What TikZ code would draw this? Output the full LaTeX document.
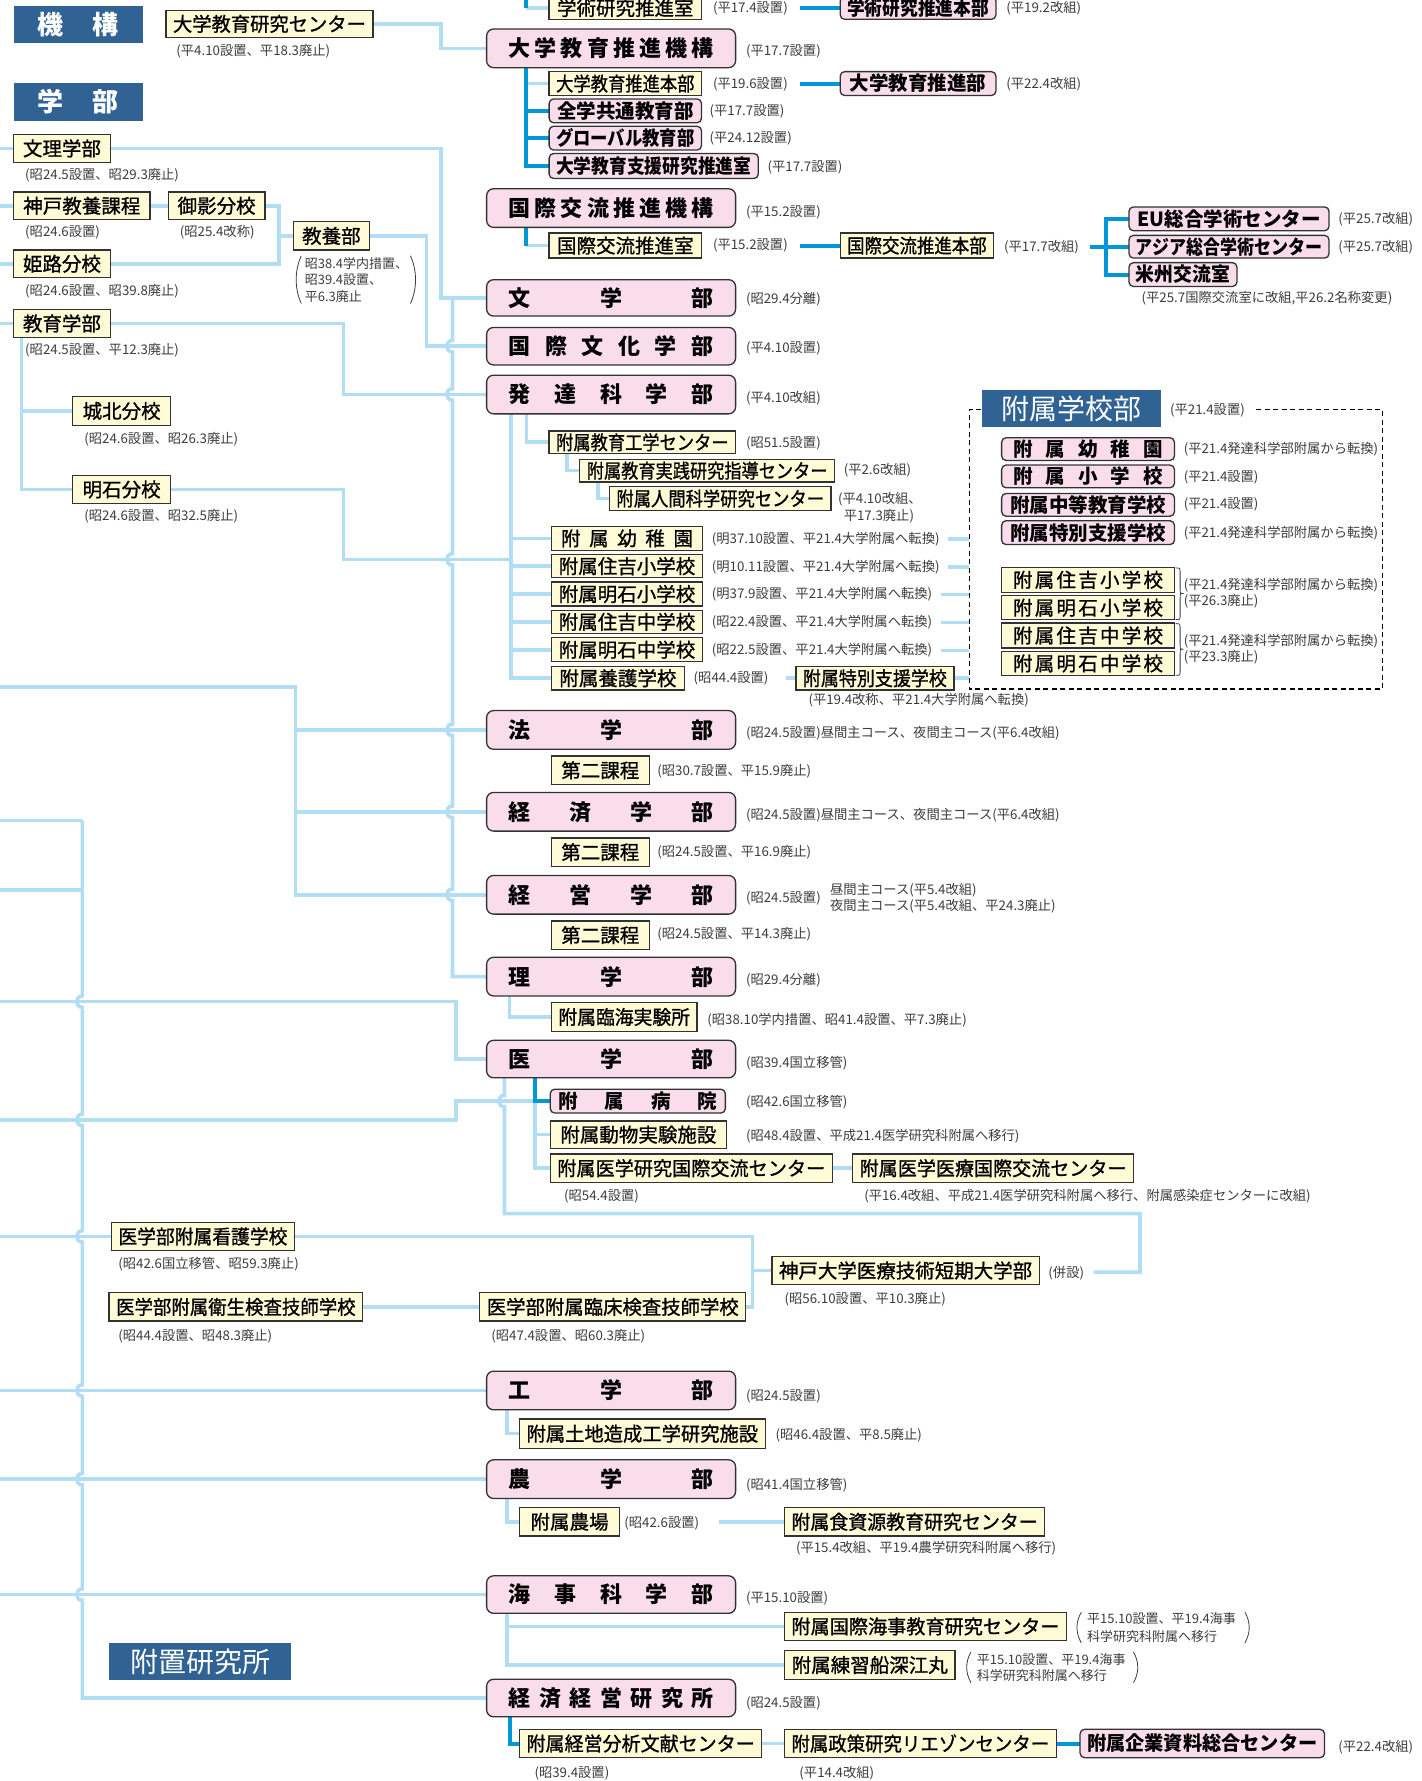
\documentclass[tikz,border=0pt]{standalone}
\usepackage{fontspec}
\usepackage{graphicx}
\setmainfont{Noto Sans CJK JP}
\newfontfamily\jpm[FakeBold=1]{Noto Sans CJK JP}
\usetikzlibrary{calc}
\definecolor{lb}{RGB}{178,222,245}
\definecolor{db}{RGB}{0,150,215}
\definecolor{pf}{RGB}{250,221,234}
\definecolor{yf}{RGB}{255,251,214}
\definecolor{hb}{RGB}{48,99,148}
\definecolor{bd}{RGB}{50,50,50}
\definecolor{cg}{RGB}{60,60,60}
\newsavebox\fitbox
\newlength\fith
\newcommand\fitw[2]{\sbox\fitbox{#2}\setlength\fith{\ht\fitbox}\ifdim\wd\fitbox>#1\relax\resizebox{#1}{\fith}{\usebox\fitbox}\else\usebox\fitbox\fi}
\newcommand\spr[2]{\makebox[#1][s]{#2}}
\pgfdeclarelayer{bg}\pgfsetlayers{bg,main}
\newcounter{capn}
\newcommand\mybox[7]{%
 \pgfmathsetlengthmacro\bw{(#5-#3)*1.137}%
 \pgfmathsetlengthmacro\bh{(#6-#4)*1.137}%
 \pgfmathsetlengthmacro\tw{(#5-#3)*1.137-14}%
 \node[#1, minimum width=\bw, minimum height=\bh] (#2) at ({(#3+#5)/2},{(#4+#6)/2}) {\fitw{\tw}{#7}};}
\newcommand\capt[3]{\stepcounter{capn}\node[capst] (cap\arabic{capn}) at (#1,#2) {#3};}
\newcommand\hop[2]{-- (#1,#2-5) .. controls (#1-6.7,#2-5) and (#1-6.7,#2+5) .. (#1,#2+5)}
\begin{document}
\begin{tikzpicture}[x=1.137pt,y=-1.137pt,
 lt/.style={draw=lb,line width=3.6pt},
 dk/.style={draw=db,line width=4pt},
 bx/.style={draw=bd,line width=1.3pt,inner sep=0pt,outer sep=0pt,text=black},
 ybox/.style={bx,fill=yf,font=\jpm\fontsize{19.5}{19.5}\selectfont},
 pbox/.style={bx,fill=pf,rounded corners=4.5pt,font=\bfseries\fontsize{19.5}{19.5}\selectfont},
 pbig/.style={bx,fill=pf,rounded corners=7pt,font=\bfseries\fontsize{22}{22}\selectfont},
 hdr/.style={fill=hb,inner sep=0pt,text=white,font=\bfseries\fontsize{26}{26}\selectfont},
 hdrr/.style={fill=hb,inner sep=0pt,text=white,font=\fontsize{28}{28}\selectfont},
 capst/.style={anchor=west,inner sep=0pt,text=cg,font=\fontsize{13.3}{13.3}\selectfont},
 capsm/.style={anchor=west,inner sep=0pt,text=cg,font=\fontsize{13}{13}\selectfont},
 dashbox/.style={draw=black,line width=1.2pt,dash pattern=on 5pt off 3.5pt},
 thinln/.style={draw=cg,line width=0.8pt}]
\useasboundingbox (0,0) rectangle (1250,1566.5);

% ---------- headers
\mybox{hdr}{hKiko}{12}{5}{126}{38}{\spr{81pt}{機\hfill 構}}
\mybox{hdr}{hGakubu}{12}{73}{126}{106}{\spr{81pt}{学\hfill 部}}
\mybox{hdrr}{hFuzoku}{864}{343}{1021}{376}{附属学校部}
\mybox{hdrr}{hFuchi}{96}{1445}{256}{1478}{附置研究所}

% ---------- left column
\mybox{ybox}{yCenter}{146}{9}{328}{33}{大学教育研究センター}
\capt{155}{45}{(平4.10設置、平18.3廃止)}
\mybox{ybox}{yBunri}{12}{118}{97}{143}{文理学部}
\capt{22}{154}{(昭24.5設置、昭29.3廃止)}
\mybox{ybox}{yKobeKyoyo}{12}{169}{132}{193}{神戸教養課程}
\capt{22}{204}{(昭24.6設置)}
\mybox{ybox}{yMikage}{148}{169}{233}{193}{御影分校}
\capt{158}{204}{(昭25.4改称)}
\mybox{ybox}{yHimeji}{12}{220}{97}{244}{姫路分校}
\capt{22}{256}{(昭24.6設置、昭39.8廃止)}
\mybox{ybox}{yKyoyo}{258}{195}{325}{220}{教養部}
\node[capsm] (kyoyoC1) at (268,232) {昭38.4学内措置、};
\node[capsm] (kyoyoC2) at (268,246.5) {昭39.4設置、};
\node[capsm] (kyoyoC3) at (268,261) {平6.3廃止};
\mybox{ybox}{yKyoiku}{12}{272}{97}{297}{教育学部}
\capt{22}{308}{(昭24.5設置、平12.3廃止)}
\mybox{ybox}{yJohoku}{64}{349}{150}{374}{城北分校}
\capt{74}{386}{(昭24.6設置、昭26.3廃止)}
\mybox{ybox}{yAkashi}{64}{418}{150}{443}{明石分校}
\capt{74}{454}{(昭24.6設置、昭32.5廃止)}

% ---------- top middle
\mybox{ybox}{yGakujutsu}{483}{-3}{617}{17}{学術研究推進室}
\capt{627}{7}{(平17.4設置)}
\mybox{pbox}{pGakujutsuHonbu}{739}{-3}{876}{17}{学術研究推進本部}
\capt{885}{7}{(平19.2改組)}
\mybox{pbig}{pKyoikuKiko}{428}{25.5}{647}{59.5}{\spr{205pt}{大\hfill 学\hfill 教\hfill 育\hfill 推\hfill 進\hfill 機\hfill 構}}
\capt{656}{45}{(平17.7設置)}
\mybox{ybox}{yKyoikuHonbu}{483}{63}{617}{84}{大学教育推進本部}
\capt{627}{74}{(平19.6設置)}
\mybox{pbox}{pKyoikuBu}{739}{63}{876}{84}{大学教育推進部}
\capt{885}{74}{(平22.4改組)}
\mybox{pbox}{pZengaku}{483}{87}{617}{108}{全学共通教育部}
\capt{624}{98}{(平17.7設置)}
\mybox{pbox}{pGlobal}{483}{111}{617}{132}{グローバル教育部}
\capt{624}{122}{(平24.12設置)}
\mybox{pbox}{pShien}{483}{135}{667}{157}{大学教育支援研究推進室}
\capt{675}{147}{(平17.7設置)}
\mybox{pbig}{pKokusaiKiko}{428}{166}{647}{200}{\spr{205pt}{国\hfill 際\hfill 交\hfill 流\hfill 推\hfill 進\hfill 機\hfill 構}}
\capt{656}{187}{(平15.2設置)}
\mybox{ybox}{yKokusaiShitsu}{483}{205}{617}{227}{国際交流推進室}
\capt{627}{216}{(平15.2設置)}
\mybox{ybox}{yKokusaiHonbu}{739}{205}{874}{227}{国際交流推進本部}
\capt{883}{217}{(平17.7改組)}
\mybox{pbox}{pEU}{993}{182}{1169}{203}{EU総合学術センター}
\capt{1177}{193}{(平25.7改組)}
\mybox{pbox}{pAsia}{993}{207}{1169}{227}{アジア総合学術センター}
\capt{1177}{217}{(平25.7改組)}
\mybox{pbox}{pBeishu}{993}{231}{1088}{252}{米州交流室}
\capt{1004}{262}{(平25.7国際交流室に改組,平26.2名称変更)}

% ---------- faculties
\mybox{pbig}{pBun}{428}{246}{647}{278}{\spr{205pt}{文\hfill 学\hfill 部}}
\capt{656}{263}{(昭29.4分離)}
\mybox{pbig}{pKokubun}{428}{288}{647}{321}{\spr{205pt}{国\hfill 際\hfill 文\hfill 化\hfill 学\hfill 部}}
\capt{656}{306}{(平4.10設置)}
\mybox{pbig}{pHattatsu}{428}{330}{647}{364}{\spr{205pt}{発\hfill 達\hfill 科\hfill 学\hfill 部}}
\capt{656}{350}{(平4.10改組)}

\mybox{ybox}{yKogaku}{483}{379}{647}{399}{附属教育工学センター}
\capt{656}{390}{(昭51.5設置)}
\mybox{ybox}{yJissen}{510}{404}{734}{424}{附属教育実践研究指導センター}
\capt{742}{414}{(平2.6改組)}
\mybox{ybox}{yNingen}{536}{428}{731}{449}{附属人間科学研究センター}
\capt{737}{439}{(平4.10改組、}
\capt{742}{454}{平17.3廃止)}
\mybox{ybox}{yYochien}{485}{463}{618}{484}{\spr{132pt}{附\hfill 属\hfill 幼\hfill 稚\hfill 園}}
\capt{626}{474}{(明37.10設置、平21.4大学附属へ転換)}
\mybox{ybox}{ySumiSho}{485}{488}{618}{508}{附属住吉小学校}
\capt{626}{498.5}{(明10.11設置、平21.4大学附属へ転換)}
\mybox{ybox}{yAkaSho}{485}{512}{618}{533}{附属明石小学校}
\capt{626}{523}{(明37.9設置、平21.4大学附属へ転換)}
\mybox{ybox}{ySumiChu}{485}{537}{618}{557}{附属住吉中学校}
\capt{626}{547.5}{(昭22.4設置、平21.4大学附属へ転換)}
\mybox{ybox}{yAkaChu}{485}{561}{618}{582}{附属明石中学校}
\capt{626}{572}{(昭22.5設置、平21.4大学附属へ転換)}
\mybox{ybox}{yYogo}{485}{586}{602}{607}{附属養護学校}
\capt{610}{597}{(昭44.4設置)}
\mybox{ybox}{yTokushi}{700}{586}{839}{607}{附属特別支援学校}
\capt{711}{616}{(平19.4改称、平21.4大学附属へ転換)}

% ---------- 附属学校部
\capt{1029}{361}{(平21.4設置)}
\mybox{pbox}{pFYochien}{881}{385}{1033}{405}{\spr{150pt}{附\hfill 属\hfill 幼\hfill 稚\hfill 園}}
\capt{1041}{395}{(平21.4発達科学部附属から転換)}
\mybox{pbox}{pFSho}{881}{409}{1033}{429}{\spr{150pt}{附\hfill 属\hfill 小\hfill 学\hfill 校}}
\capt{1041}{420}{(平21.4設置)}
\mybox{pbox}{pFChuto}{881}{434}{1033}{454}{附属中等教育学校}
\capt{1041}{444}{(平21.4設置)}
\mybox{pbox}{pFTokushi}{881}{458}{1033}{479}{附属特別支援学校}
\capt{1041}{469}{(平21.4発達科学部附属から転換)}
\mybox{ybox}{yFSumiSho}{881}{499}{1033}{521}{\spr{150pt}{附\hfill 属\hfill 住\hfill 吉\hfill 小\hfill 学\hfill 校}}
\mybox{ybox}{yFAkaSho}{881}{524}{1033}{545}{\spr{150pt}{附\hfill 属\hfill 明\hfill 石\hfill 小\hfill 学\hfill 校}}
\mybox{ybox}{yFSumiChu}{881}{548}{1033}{570}{\spr{150pt}{附\hfill 属\hfill 住\hfill 吉\hfill 中\hfill 学\hfill 校}}
\mybox{ybox}{yFAkaChu}{881}{573}{1033}{594}{\spr{150pt}{附\hfill 属\hfill 明\hfill 石\hfill 中\hfill 学\hfill 校}}
\capt{1041}{515}{(平21.4発達科学部附属から転換)}
\capt{1041}{529}{(平26.3廃止)}
\capt{1041}{564}{(平21.4発達科学部附属から転換)}
\capt{1041}{578}{(平23.3廃止)}

% ---------- law / economics / business / science
\mybox{pbig}{pHo}{428}{625}{647}{659}{\spr{205pt}{法\hfill 学\hfill 部}}
\capt{656}{645}{(昭24.5設置)昼間主コース、夜間主コース(平6.4改組)}
\mybox{ybox}{yDai1}{485}{665}{571}{690}{第二課程}
\capt{578}{678}{(昭30.7設置、平15.9廃止)}
\mybox{pbig}{pKeizai}{428}{697}{647}{731}{\spr{205pt}{経\hfill 済\hfill 学\hfill 部}}
\capt{656}{717}{(昭24.5設置)昼間主コース、夜間主コース(平6.4改組)}
\mybox{ybox}{yDai2}{485}{737}{571}{762}{第二課程}
\capt{578}{750}{(昭24.5設置、平16.9廃止)}
\mybox{pbig}{pKeiei}{428}{770}{647}{804}{\spr{205pt}{経\hfill 営\hfill 学\hfill 部}}
\capt{656}{790}{(昭24.5設置)}
\capt{730}{783}{昼間主コース(平5.4改組)}
\capt{730}{797}{夜間主コース(平5.4改組、平24.3廃止)}
\mybox{ybox}{yDai3}{485}{810}{571}{835}{第二課程}
\capt{578}{822}{(昭24.5設置、平14.3廃止)}
\mybox{pbig}{pRi}{428}{842}{647}{876}{\spr{205pt}{理\hfill 学\hfill 部}}
\capt{656}{862}{(昭29.4分離)}
\mybox{ybox}{yRinkai}{485}{882}{613}{907}{附属臨海実験所}
\capt{622}{897}{(昭38.10学内措置、昭41.4設置、平7.3廃止)}

% ---------- medicine
\mybox{pbig}{pI}{428}{915}{647}{948}{\spr{205pt}{医\hfill 学\hfill 部}}
\capt{656}{935}{(昭39.4国立移管)}
\mybox{pbox}{pByoin}{484}{958}{638}{979}{\spr{158pt}{附\hfill 属\hfill 病\hfill 院}}
\capt{656}{969}{(昭42.6国立移管)}
\mybox{ybox}{yDobutsu}{484}{986}{639}{1010}{附属動物実験施設}
\capt{656}{999}{(昭48.4設置、平成21.4医学研究科附属へ移行)}
\mybox{ybox}{yIgakuKenkyu}{484}{1015}{732}{1040}{附属医学研究国際交流センター}
\capt{496}{1052}{(昭54.4設置)}
\mybox{ybox}{yIgakuIryo}{750}{1015}{997}{1040}{附属医学医療国際交流センター}
\capt{760}{1052}{(平16.4改組、平成21.4医学研究科附属へ移行、附属感染症センターに改組)}
\mybox{ybox}{yKango}{98}{1075}{259}{1100}{医学部附属看護学校}
\capt{104}{1112}{(昭42.6国立移管、昭59.3廃止)}
\mybox{ybox}{yEisei}{96}{1137}{319}{1162}{医学部附属衛生検査技師学校}
\capt{104}{1175}{(昭44.4設置、昭48.3廃止)}
\mybox{ybox}{yRinsho}{422}{1137}{656}{1162}{医学部附属臨床検査技師学校}
\capt{432}{1175}{(昭47.4設置、昭60.3廃止)}
\mybox{ybox}{yTanki}{679}{1105}{914}{1130}{神戸大学医療技術短期大学部}
\capt{690}{1143}{(昭56.10設置、平10.3廃止)}
\capt{922}{1120}{(併設)}

% ---------- engineering etc.
\mybox{pbig}{pKo}{428}{1206}{647}{1240}{\spr{205pt}{工\hfill 学\hfill 部}}
\capt{656}{1228}{(昭24.5設置)}
\mybox{ybox}{yTochi}{457}{1248}{673}{1274}{附属土地造成工学研究施設}
\capt{682}{1262}{(昭46.4設置、平8.5廃止)}
\mybox{pbig}{pNo}{428}{1284}{647}{1318}{\spr{205pt}{農\hfill 学\hfill 部}}
\capt{656}{1306}{(昭41.4国立移管)}
\mybox{ybox}{yNojo}{457}{1326}{545}{1351}{附属農場}
\capt{549}{1340}{(昭42.6設置)}
\mybox{ybox}{yShokushigen}{690}{1326}{919}{1351}{附属食資源教育研究センター}
\capt{700}{1362}{(平15.4改組、平19.4農学研究科附属へ移行)}
\mybox{pbig}{pKaiji}{428}{1386}{647}{1419}{\spr{205pt}{海\hfill 事\hfill 科\hfill 学\hfill 部}}
\capt{656}{1406}{(平15.10設置)}
\mybox{ybox}{yKaijiCenter}{690}{1418}{938}{1443}{附属国際海事教育研究センター}
\node[capsm] (kjc1) at (956,1424) {平15.10設置、平19.4海事};
\node[capsm] (kjc2) at (956,1439) {科学研究科附属へ移行};
\mybox{ybox}{yRenshu}{690}{1452}{840}{1477}{附属練習船深江丸}
\node[capsm] (rsc1) at (859,1460) {平15.10設置、平19.4海事};
\node[capsm] (rsc2) at (859,1474) {科学研究科附属へ移行};
\mybox{pbig}{pKeiken}{428}{1477}{647}{1510}{\spr{205pt}{経\hfill 済\hfill 経\hfill 営\hfill 研\hfill 究\hfill 所}}
\capt{656}{1498}{(昭24.5設置)}
\mybox{ybox}{yBunken}{457}{1521}{670}{1546}{附属経営分析文献センター}
\capt{470}{1560}{(昭39.4設置)}
\mybox{ybox}{ySeisaku}{690}{1521}{929}{1546}{附属政策研究リエゾンセンター}
\capt{703}{1560}{(平14.4改組)}
\mybox{pbox}{pKigyo}{950}{1521}{1165}{1546}{附属企業資料総合センター}
\capt{1177}{1537}{(平22.4改組)}

% ---------- connectors
\begin{pgfonlayer}{bg}
\coordinate (eTop) at (463,-6);
\draw[lt] (yGakujutsu.west) -- ++(-20,0);
\draw[dk] (eTop) -- (463,7);
\coordinate (gA) at (704,7);
\draw[dk] (gA) -- (pGakujutsuHonbu.west);
\draw[lt] (yCenter.east) -- (388,21) |- (pKyoikuKiko.west);
\draw[lt] (yKyoikuHonbu.west) -- ++(-20,0);
\draw[dk] ($(pKyoikuKiko.south west)+(35,0)$) |- (pShien.west);
\draw[dk] (pZengaku.west) -- ++(-20,0);
\draw[dk] (pGlobal.west) -- ++(-20,0);
\coordinate (kA) at (704,73.5);
\draw[dk] (kA) -- (pKyoikuBu.west);
\draw[lt] (yKokusaiShitsu.west) -- ++(-20,0);
\draw[dk] ($(pKokusaiKiko.south west)+(35,0)$) -- ++(0,16);
\coordinate (kB) at (704,216);
\draw[dk] (kB) -- (yKokusaiHonbu.west);
\coordinate (kH) at (959,217);
\draw[dk] (kH) -- (pAsia.west);
\draw[dk] (pEU.west) -- ++(-20,0) |- (pBeishu.west);

% Bunri / Kobe / Kyoiku
\coordinate (eB) at (-2,130.5);
\draw[lt] (eB) -- (yBunri.west);
\draw[lt] (yBunri.east) -- (388,130.5) |- (pBun.west);
\coordinate (eK) at (-2,181);
\draw[lt] (eK) -- (yKobeKyoyo.west);
\draw[lt] (yKobeKyoyo.east) -- (yMikage.west);
\draw[lt] (yMikage.east) -- (245.5,181) -- (245.5,232) -- (yHimeji.east);
\coordinate (eH) at (-2,232);
\draw[lt] (eH) -- (yHimeji.west);
\draw[lt] (245.5,207.5) -- (yKyoyo.west);
\draw[lt] (yKyoyo.east) -- (375,207.5) |- (pKokubun.west);
\coordinate (eE) at (-2,284.5);
\draw[lt] (eE) -- (yKyoiku.west);
\draw[lt] (yKyoiku.east) -- (302,284.5) |- (pHattatsu.west);
\draw[lt] ($(yKyoiku.south west)+(7,0)$) |- (yAkashi.west);
\draw[lt] (19,361.5) -- (yJohoku.west);
\draw[lt] (yAkashi.east) -- (302,430.5) -- (302,492) -- (449.6,492);

% Hattatsu children
\draw[lt] ($(pHattatsu.south west)+(21.6,0)$) |- (yYogo.west);
\foreach \n in {yYochien,ySumiSho,yAkaSho,ySumiChu,yAkaChu} \draw[lt] (\n.west) -- ++(-35.4,0);
\draw[lt] ($(pHattatsu.south west)+(35,0)$) |- (yKogaku.west);
\draw[lt] ($(yKogaku.south west)+(15.6,0)$) |- (yJissen.west);
\draw[lt] ($(yJissen.south west)+(15.8,0)$) |- (yNingen.west);
\foreach \yy/\xx in {474/834,498.5/834,523/828,547.5/828,572/828} \draw[lt] (\xx,\yy) -- (852.5,\yy);
\coordinate (tY) at (691,596.5);
\draw[lt] (tY) -- (yTokushi.west);
\draw[lt] (yTokushi.east) -- (852.5,596.5);

% law group
\coordinate (eL) at (-2,604);
\draw[lt] (eL) -- (260,604) |- (pKeiei.west);
\draw[lt] (260,642) -- (pHo.west);
\draw[lt] (260,714) -- (pKeizai.west);

% Bunri vertical with hops
\draw[lt] (398,262) \hop{398}{304.5} \hop{398}{347} \hop{398}{492} \hop{398}{642} \hop{398}{714} \hop{398}{787} |- (pRi.west);
\draw[lt] ($(pRi.south west)+(20,0)$) |- (yRinkai.west);

% commerce vertical
\coordinate (eC1) at (-2,721.5);
\coordinate (eC2) at (-2,783);
\draw[lt] (eC1) -- (72.5,721.5);
\draw[lt] (eC2) -- (72.5,783);

% medicine
\coordinate (eM) at (-2,881);
\draw[lt] (eM) -- (401,881) |- (pI.west);
\coordinate (eHp) at (-2,985);
\draw[lt] (eHp) -- (401,985) |- (pByoin.west);
\coordinate (kP) at (962,1119);
\draw[lt] ($(pI.south west)+(15.7,0)$) \hop{443.7}{968.5} -- (443.7,1067.5) -- (1002.7,1067.5) |- (kP);
\draw[lt] ($(pI.south west)+(42.7,0)$) |- (yIgakuKenkyu.west);
\draw[lt] (yDobutsu.west) -- ++(-13.3,0);
\draw[dk] ($(pI.south west)+(42.7,0)$) |- (pByoin.west);
\draw[lt] (yIgakuKenkyu.east) -- (yIgakuIryo.west);
\coordinate (eN) at (-2,1087.5);
\draw[lt] (eN) -- (yKango.west);
\draw[lt] (yKango.east) -- (662,1087.5) |- (yRinsho.east);
\draw[lt] (662,1117.5) -- (yTanki.west);
\draw[lt] (yEisei.east) -- (yRinsho.west);

% engineering etc
\coordinate (eKo) at (-2,1223);
\draw[lt] (eKo) -- (pKo.west);
\draw[lt] ($(pKo.south west)+(17.7,0)$) |- (yTochi.west);
\coordinate (eNo) at (-2,1301);
\draw[lt] (eNo) -- (pNo.west);
\draw[lt] ($(pNo.south west)+(17.7,0)$) |- (yNojo.west);
\coordinate (nA) at (632,1338.5);
\draw[lt] (nA) -- (yShokushigen.west);
\coordinate (eKa) at (-2,1402.5);
\draw[lt] (eKa) -- (pKaiji.west);
\draw[lt] ($(pKaiji.south west)+(17.7,0)$) |- (yRenshu.west);
\draw[lt] (445.7,1430.5) -- (yKaijiCenter.west);
\draw[lt] (72.5,721.5) \hop{72.5}{881} \hop{72.5}{985} \hop{72.5}{1087.5} \hop{72.5}{1223} \hop{72.5}{1301} \hop{72.5}{1402.5} |- (pKeiken.west);
\draw[dk] ($(pKeiken.south west)+(20.9,0)$) |- (yBunken.west);
\draw[lt] (yBunken.east) -- (ySeisaku.west);
\draw[dk] (ySeisaku.east) -- (pKigyo.west);

% dashed frame of 附属学校部
\draw[dashbox] (1105,360.5) -- (1216,360.5) -- (1216,606) -- (852.5,606) -- (852.5,360.5) -- (864,360.5);
\end{pgfonlayer}

% brackets and parentheses
\draw[thinln] (1034,499.5) .. controls (1038,499.5) .. (1038,504) -- (1038,518) .. controls (1038,522) .. (1041,522) .. controls (1038,522) .. (1038,526) -- (1038,541) .. controls (1038,545) .. (1034,545);
\draw[thinln] (1034,548.5) .. controls (1038,548.5) .. (1038,553) -- (1038,567) .. controls (1038,571) .. (1041,571) .. controls (1038,571) .. (1038,575) -- (1038,590) .. controls (1038,594) .. (1034,594);
\draw[thinln] (265,225) .. controls (259,238) and (259,254) .. (265,267);
\draw[thinln] (361,225) .. controls (367,238) and (367,254) .. (361,267);
\draw[thinln] (951,1418) .. controls (946,1427) and (946,1436) .. (951,1445);
\draw[thinln] (1095,1418) .. controls (1100,1427) and (1100,1436) .. (1095,1445);
\draw[thinln] (854,1453) .. controls (849,1462) and (849,1471) .. (854,1480);
\draw[thinln] (997,1453) .. controls (1002,1462) and (1002,1471) .. (997,1480);
\end{tikzpicture}
\end{document}
